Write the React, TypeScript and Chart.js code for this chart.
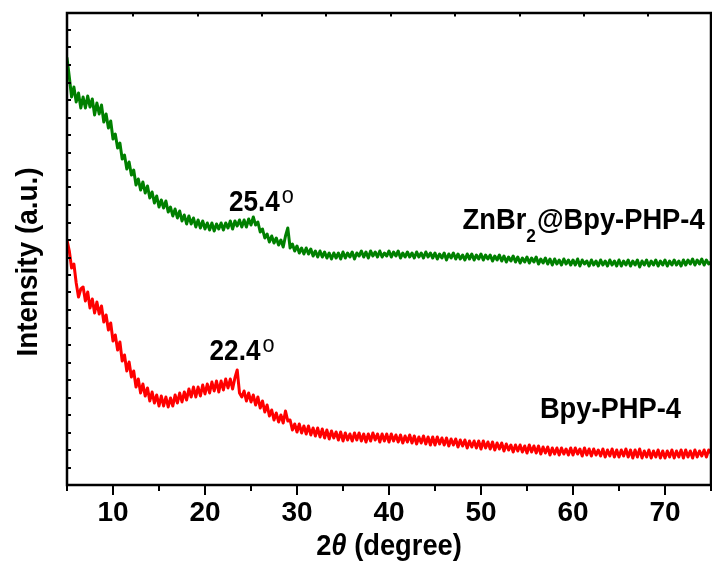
import React, { useEffect, useRef } from 'react';
import { Chart, registerables } from 'chart.js';

Chart.register(...registerables);

// 2θ sampling of both patterns (degrees)
const angleStart = 5;
const angleStep = 0.25;

// ZnBr2@Bpy-PHP-4 intensity (a.u.), read every 0.25° from 5° to 75°
const greenIntensity = [
  427, 408, 388, 398, 383, 392, 377, 388, 377, 389, 378, 386, 370, 382, 371, 380, 363, 371, 357, 364,
  346, 351, 337, 342, 326, 330, 316, 323, 310, 315, 300, 306, 295, 303, 292, 299, 287, 293, 282, 289,
  278, 285, 277, 284, 273, 278, 269, 276, 267, 274, 264, 270, 261, 269, 261, 267, 258, 265, 257, 264,
  256, 262, 255, 262, 254, 261, 256, 262, 255, 262, 257, 264, 256, 264, 259, 265, 258, 265, 258, 266,
  260, 268, 260, 263, 253, 256, 247, 251, 243, 249, 242, 247, 240, 245, 238, 249, 257, 237, 241, 234,
  239, 232, 237, 231, 237, 231, 236, 229, 234, 228, 234, 228, 233, 227, 232, 226, 232, 227, 232, 226,
  233, 227, 232, 228, 233, 226, 232, 229, 234, 228, 233, 227, 234, 229, 233, 228, 234, 228, 232, 229,
  234, 228, 233, 229, 234, 227, 232, 228, 233, 228, 232, 227, 233, 228, 232, 227, 233, 228, 232, 227,
  232, 226, 231, 227, 232, 225, 231, 227, 232, 226, 231, 226, 230, 225, 231, 226, 231, 225, 230, 226,
  231, 225, 230, 226, 230, 224, 229, 225, 230, 224, 229, 223, 228, 224, 229, 223, 228, 222, 227, 223,
  228, 222, 227, 223, 228, 221, 226, 222, 227, 221, 226, 220, 226, 221, 225, 220, 226, 221, 225, 220,
  225, 220, 226, 219, 225, 221, 224, 219, 225, 220, 224, 219, 225, 220, 224, 219, 225, 220, 224, 219,
  225, 219, 224, 220, 225, 219, 224, 220, 225, 218, 224, 220, 225, 219, 224, 220, 225, 219, 224, 220,
  225, 219, 224, 220, 225, 220, 224, 219, 225, 220, 225, 221, 226, 220, 225, 221, 226, 220, 225, 221,
  223,
];

// Bpy-PHP-4 intensity (a.u.), read every 0.25° from 5° to 75°
const redIntensity = [
  245, 234, 217, 221, 202, 188, 196, 198, 184, 193, 177, 186, 172, 183, 171, 179, 163, 170, 155, 162,
  144, 150, 135, 143, 124, 130, 114, 123, 108, 114, 98, 106, 92, 101, 89, 97, 84, 93, 82, 90,
  79, 89, 79, 88, 78, 87, 79, 90, 82, 92, 83, 93, 85, 96, 88, 98, 88, 98, 89, 100,
  91, 101, 92, 103, 94, 104, 93, 104, 95, 106, 97, 106, 96, 107, 115, 92, 88, 94, 84, 92,
  83, 90, 80, 88, 77, 84, 73, 80, 69, 75, 65, 72, 63, 70, 62, 74, 64, 65, 55, 61,
  53, 61, 52, 59, 51, 59, 50, 57, 49, 57, 48, 56, 47, 55, 46, 54, 47, 53, 45, 53,
  44, 52, 45, 51, 44, 52, 45, 52, 44, 51, 43, 51, 44, 52, 45, 51, 43, 51, 44, 51,
  43, 51, 44, 50, 43, 50, 42, 49, 43, 50, 42, 49, 41, 48, 42, 49, 41, 48, 40, 48,
  40, 48, 41, 47, 40, 47, 39, 46, 40, 46, 38, 45, 39, 45, 37, 44, 38, 44, 37, 44,
  36, 44, 37, 43, 36, 43, 35, 42, 36, 42, 34, 41, 35, 40, 33, 40, 34, 40, 33, 39,
  32, 40, 33, 39, 32, 39, 31, 38, 32, 38, 30, 37, 31, 37, 30, 37, 31, 36, 30, 37,
  30, 37, 31, 36, 29, 37, 30, 36, 29, 36, 30, 35, 29, 36, 28, 35, 29, 36, 28, 35,
  28, 35, 29, 36, 28, 35, 27, 35, 28, 36, 27, 34, 28, 35, 27, 34, 28, 35, 27, 34,
  27, 34, 28, 35, 27, 34, 28, 35, 27, 35, 28, 34, 27, 35, 28, 34, 29, 35, 28, 35,
  32,
];

const xMin = 5;
const xMax = 75;
const xMajorTicks = [10, 20, 30, 40, 50, 60, 70];
const xMinorTicks = [5, 15, 25, 35, 45, 55, 65, 75];
const topTicks = [12.2, 19.2, 26.2, 33.2, 40.2, 47.2, 54.2, 61.2, 68.2];
const yMin = 0;
const yMax = 472;
const yTickStep = 17.5;

const seriesNames = ['ZnBr2@Bpy-PHP-4', 'Bpy-PHP-4'];
const seriesColors = ['#008000', '#ff0000'];

// peak annotations: text, anchor angle, anchor intensity
const peakTexts = ['25.4', '22.4'];
const peakAngles = [22.6, 20.5];
const peakLevels = [274, 125];

// series label anchors
const nameAngles = [48.0, 56.4];
const nameLevels = [256, 67];

const FONT = '"Liberation Sans", Arial, sans-serif';

function drawScaled(ctx: CanvasRenderingContext2D, text: string, x: number, y: number, font: string, sx: number) {
  ctx.save();
  ctx.font = font;
  const w = ctx.measureText(text).width * sx;
  ctx.translate(x, y);
  ctx.scale(sx, 1);
  ctx.textAlign = 'left';
  ctx.textBaseline = 'alphabetic';
  ctx.fillText(text, 0, 0);
  ctx.restore();
  return w;
}

function measureScaled(ctx: CanvasRenderingContext2D, text: string, font: string, sx: number) {
  ctx.save();
  ctx.font = font;
  const w = ctx.measureText(text).width * sx;
  ctx.restore();
  return w;
}

const framePlugin = {
  id: 'framePlugin',
  afterDraw(chart: any) {
    const { ctx, chartArea: a, scales } = chart;
    const xs = scales.x;
    const ys = scales.y;
    ctx.save();
    ctx.strokeStyle = '#000';
    ctx.fillStyle = '#000';
    ctx.lineWidth = 2.5;
    ctx.strokeRect(a.left, a.top, a.right - a.left, a.bottom - a.top);

    ctx.lineWidth = 2;
    ctx.beginPath();
    xMajorTicks.forEach((v) => {
      const px = Math.round(xs.getPixelForValue(v));
      ctx.moveTo(px, a.bottom);
      ctx.lineTo(px, a.bottom + 10);
    });
    xMinorTicks.forEach((v) => {
      const px = Math.round(xs.getPixelForValue(v));
      ctx.moveTo(px, a.bottom);
      ctx.lineTo(px, a.bottom + 6);
    });
    topTicks.forEach((v) => {
      const px = Math.round(xs.getPixelForValue(v));
      ctx.moveTo(px, a.top);
      ctx.lineTo(px, a.top + 3.5);
    });
    for (let v = yMin + yTickStep; v < yMax - 1; v += yTickStep) {
      const py = Math.round(ys.getPixelForValue(v));
      ctx.moveTo(a.left, py);
      ctx.lineTo(a.left + 4, py);
    }
    ctx.stroke();

    // peak annotations with degree mark
    peakTexts.forEach((t, i) => {
      const px = xs.getPixelForValue(peakAngles[i]);
      const py = ys.getPixelForValue(peakLevels[i]);
      const w = drawScaled(ctx, t, px, py, `bold 29px ${FONT}`, 0.9);
      drawScaled(ctx, 'o', px + w + 2, py - 8, `normal 24px ${FONT}`, 0.9);
    });

    // series names
    {
      const px = xs.getPixelForValue(nameAngles[0]);
      const py = ys.getPixelForValue(nameLevels[0]);
      let x = px;
      x += drawScaled(ctx, 'ZnBr', x, py, `bold 30px ${FONT}`, 0.91);
      x += drawScaled(ctx, '2', x, py + 13, `bold 19px ${FONT}`, 0.91) + 1;
      drawScaled(ctx, '@Bpy-PHP-4', x, py, `bold 30px ${FONT}`, 0.91);
    }
    {
      const px = xs.getPixelForValue(nameAngles[1]);
      const py = ys.getPixelForValue(nameLevels[1]);
      drawScaled(ctx, seriesNames[1], px, py, `bold 30px ${FONT}`, 0.91);
    }

    // x title: 2θ (degree)
    {
      const fB = `bold 30px ${FONT}`;
      const fI = `italic bold 30px ${FONT}`;
      const parts = [
        { t: '2', f: fB },
        { t: 'θ', f: fI },
        { t: ' (degree)', f: fB },
      ];
      const total = parts.reduce((s, p) => s + measureScaled(ctx, p.t, p.f, 0.91), 0);
      let x = (a.left + a.right) / 2 - total / 2;
      const y = 555;
      parts.forEach((p) => {
        x += drawScaled(ctx, p.t, x, y, p.f, 0.91);
      });
    }

    // y title
    {
      ctx.save();
      ctx.translate(37, (a.top + a.bottom) / 2 + 13);
      ctx.rotate(-Math.PI / 2);
      ctx.scale(0.93, 1);
      ctx.font = `bold 30px ${FONT}`;
      ctx.textAlign = 'center';
      ctx.textBaseline = 'alphabetic';
      ctx.fillText('Intensity (a.u.)', 0, 0);
      ctx.restore();
    }
    ctx.restore();
  },
};

export default function App() {
  const canvasRef = useRef<HTMLCanvasElement | null>(null);

  useEffect(() => {
    if (!canvasRef.current) return;
    const angles = greenIntensity.map((_, i) => angleStart + i * angleStep);
    const chart = new Chart(canvasRef.current, {
      type: 'line',
      data: {
        datasets: [
          {
            label: seriesNames[0],
            data: greenIntensity.map((v, i) => ({ x: angles[i], y: v })),
            borderColor: seriesColors[0],
            borderWidth: 3,
            pointRadius: 0,
            tension: 0,
          },
          {
            label: seriesNames[1],
            data: redIntensity.map((v, i) => ({ x: angleStart + i * angleStep, y: v })),
            borderColor: seriesColors[1],
            borderWidth: 3,
            pointRadius: 0,
            tension: 0,
          },
        ],
      },
      options: {
        animation: false,
        responsive: true,
        maintainAspectRatio: false,
        devicePixelRatio: 1,
        layout: { padding: { top: 13, right: 1, left: 0, bottom: 0 } },
        plugins: { legend: { display: false }, tooltip: { enabled: false } },
        elements: { line: { borderJoinStyle: 'round', borderCapStyle: 'round' } },
        scales: {
          x: {
            type: 'linear',
            min: xMin,
            max: xMax,
            grid: { display: false, drawTicks: false },
            border: { display: false },
            ticks: {
              color: '#000',
              padding: 11,
              font: { family: FONT, size: 28, weight: 'bold' },
              maxRotation: 0,
            },
            afterBuildTicks: (s: any) => {
              s.ticks = xMajorTicks.map((v) => ({ value: v }));
            },
            afterFit: (s: any) => {
              s.height = 80;
            },
          },
          y: {
            type: 'linear',
            min: yMin,
            max: yMax,
            grid: { display: false, drawTicks: false },
            border: { display: false },
            ticks: { display: false, stepSize: yTickStep },
            afterFit: (s: any) => {
              s.width = 67;
            },
          },
        },
      },
      plugins: [framePlugin],
    } as any);
    return () => chart.destroy();
  }, []);

  return (
    <div style={{ position: 'fixed', left: 0, top: 0, width: 712, height: 565, background: '#fff' }}>
      <canvas ref={canvasRef} />
    </div>
  );
}
